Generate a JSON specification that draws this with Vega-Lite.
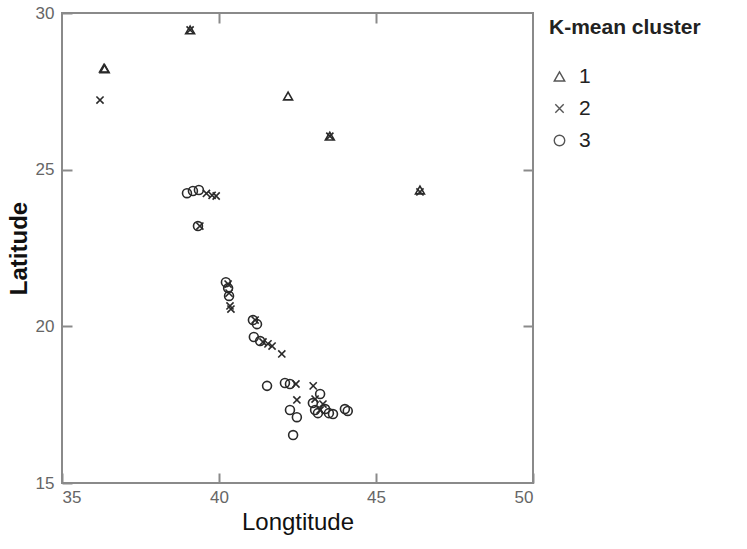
{
  "$schema": "https://vega.github.io/schema/vega-lite/v6.json",
  "width": 471,
  "height": 470,
  "autosize": "none",
  "padding": {"left": 62, "top": 13, "right": 214, "bottom": 66},
  "background": "white",
  "config": {
    "view": {"stroke": "#8a8a8a", "strokeWidth": 2},
    "font": "Liberation Sans"
  },
  "data": {
    "values": [
      {"lon": 36.34, "lat": 28.24, "cluster": "1"},
      {"lon": 36.36, "lat": 28.22, "cluster": "1"},
      {"lon": 39.08, "lat": 29.46, "cluster": "1"},
      {"lon": 42.2, "lat": 27.35, "cluster": "1"},
      {"lon": 43.53, "lat": 26.07, "cluster": "1"},
      {"lon": 46.4, "lat": 24.35, "cluster": "1"},
      {"lon": 36.21, "lat": 27.22, "cluster": "2"},
      {"lon": 39.08, "lat": 29.46, "cluster": "2"},
      {"lon": 43.53, "lat": 26.07, "cluster": "2"},
      {"lon": 46.4, "lat": 24.29, "cluster": "2"},
      {"lon": 39.6, "lat": 24.24, "cluster": "2"},
      {"lon": 39.78, "lat": 24.18, "cluster": "2"},
      {"lon": 39.91, "lat": 24.16, "cluster": "2"},
      {"lon": 39.39, "lat": 23.2, "cluster": "2"},
      {"lon": 40.29, "lat": 21.35, "cluster": "2"},
      {"lon": 40.32, "lat": 21.06, "cluster": "2"},
      {"lon": 40.35, "lat": 20.65, "cluster": "2"},
      {"lon": 40.38, "lat": 20.55, "cluster": "2"},
      {"lon": 41.15, "lat": 20.2, "cluster": "2"},
      {"lon": 41.4, "lat": 19.5, "cluster": "2"},
      {"lon": 41.56, "lat": 19.44, "cluster": "2"},
      {"lon": 41.69, "lat": 19.37, "cluster": "2"},
      {"lon": 42.0, "lat": 19.12, "cluster": "2"},
      {"lon": 42.45, "lat": 18.16, "cluster": "2"},
      {"lon": 43.0, "lat": 18.1, "cluster": "2"},
      {"lon": 42.48, "lat": 17.65, "cluster": "2"},
      {"lon": 43.06, "lat": 17.68, "cluster": "2"},
      {"lon": 43.22, "lat": 17.33, "cluster": "2"},
      {"lon": 43.31, "lat": 17.52, "cluster": "2"},
      {"lon": 38.98, "lat": 24.25, "cluster": "3"},
      {"lon": 39.17, "lat": 24.32, "cluster": "3"},
      {"lon": 39.36, "lat": 24.35, "cluster": "3"},
      {"lon": 39.33, "lat": 23.2, "cluster": "3"},
      {"lon": 40.22, "lat": 21.41, "cluster": "3"},
      {"lon": 40.29, "lat": 21.22, "cluster": "3"},
      {"lon": 40.32, "lat": 20.97, "cluster": "3"},
      {"lon": 41.08, "lat": 20.2, "cluster": "3"},
      {"lon": 41.21, "lat": 20.07, "cluster": "3"},
      {"lon": 41.11, "lat": 19.66, "cluster": "3"},
      {"lon": 41.31, "lat": 19.53, "cluster": "3"},
      {"lon": 41.53, "lat": 18.1, "cluster": "3"},
      {"lon": 42.1, "lat": 18.19, "cluster": "3"},
      {"lon": 42.26, "lat": 18.16, "cluster": "3"},
      {"lon": 43.22, "lat": 17.84, "cluster": "3"},
      {"lon": 42.26, "lat": 17.33, "cluster": "3"},
      {"lon": 42.48, "lat": 17.1, "cluster": "3"},
      {"lon": 42.36, "lat": 16.53, "cluster": "3"},
      {"lon": 42.99, "lat": 17.55, "cluster": "3"},
      {"lon": 43.06, "lat": 17.33, "cluster": "3"},
      {"lon": 43.15, "lat": 17.23, "cluster": "3"},
      {"lon": 43.38, "lat": 17.36, "cluster": "3"},
      {"lon": 43.5, "lat": 17.23, "cluster": "3"},
      {"lon": 43.63, "lat": 17.2, "cluster": "3"},
      {"lon": 44.01, "lat": 17.36, "cluster": "3"},
      {"lon": 44.1, "lat": 17.3, "cluster": "3"}
    ]
  },
  "layer": [
    {
      "mark": {"type": "point", "filled": false, "strokeWidth": 1.6, "size": 80, "opacity": 1},
      "encoding": {
        "x": {
          "field": "lon", "type": "quantitative",
          "scale": {"domain": [35, 50], "nice": false, "zero": false},
          "axis": {
            "title": "Longtitude", "values": [35, 40, 45, 50], "grid": false, "domain": false,
            "tickSize": -10, "tickColor": "#8a8a8a", "tickWidth": 2, "labelPadding": 16,
            "labelFontSize": 17, "labelColor": "#666", "labelFont": "Liberation Sans",
            "titleFontSize": 24, "titleFontWeight": "normal", "titleColor": "#111", "titlePadding": 5
          }
        },
        "y": {
          "field": "lat", "type": "quantitative",
          "scale": {"domain": [15, 30], "nice": false, "zero": false},
          "axis": {
            "title": "Latitude", "values": [15, 20, 25, 30], "grid": false, "domain": false,
            "tickSize": -10, "tickColor": "#8a8a8a", "tickWidth": 2, "labelPadding": 18,
            "labelFontSize": 17, "labelColor": "#666", "labelFont": "Liberation Sans",
            "titleFontSize": 24, "titleFontWeight": "bold", "titleColor": "#111", "titlePadding": 4
          }
        },
        "shape": {
          "field": "cluster", "type": "nominal",
          "scale": {"domain": ["1", "2", "3"], "range": ["triangle-up", "M-0.8,-0.8L0.8,0.8M0.8,-0.8L-0.8,0.8", "circle"]},
          "legend": {
            "title": "K-mean cluster", "orient": "none", "legendX": 487, "legendY": 4,
            "titleFontSize": 21, "titleFontWeight": "bold", "titleColor": "#222", "titlePadding": 28,
            "labelFontSize": 21, "labelColor": "#222", "labelOffset": 9,
            "symbolStrokeColor": "#555", "symbolSize": 110, "symbolStrokeWidth": 1.4, "rowPadding": 10
          }
        },
        "stroke": {"value": "#2a2a2a"}
      }
    },
    {
      "mark": {"type": "point", "opacity": 0},
      "encoding": {
        "x": {
          "field": "lon", "type": "quantitative",
          "axis": {"orient": "top", "title": null, "values": [40, 45], "labels": false, "grid": false, "domain": false, "tickSize": -10, "tickColor": "#8a8a8a", "tickWidth": 2}
        },
        "y": {
          "field": "lat", "type": "quantitative",
          "axis": {"orient": "right", "title": null, "values": [20, 25], "labels": false, "grid": false, "domain": false, "tickSize": -10, "tickColor": "#8a8a8a", "tickWidth": 2}
        }
      }
    }
  ],
  "resolve": {"axis": {"x": "independent", "y": "independent"}}
}
